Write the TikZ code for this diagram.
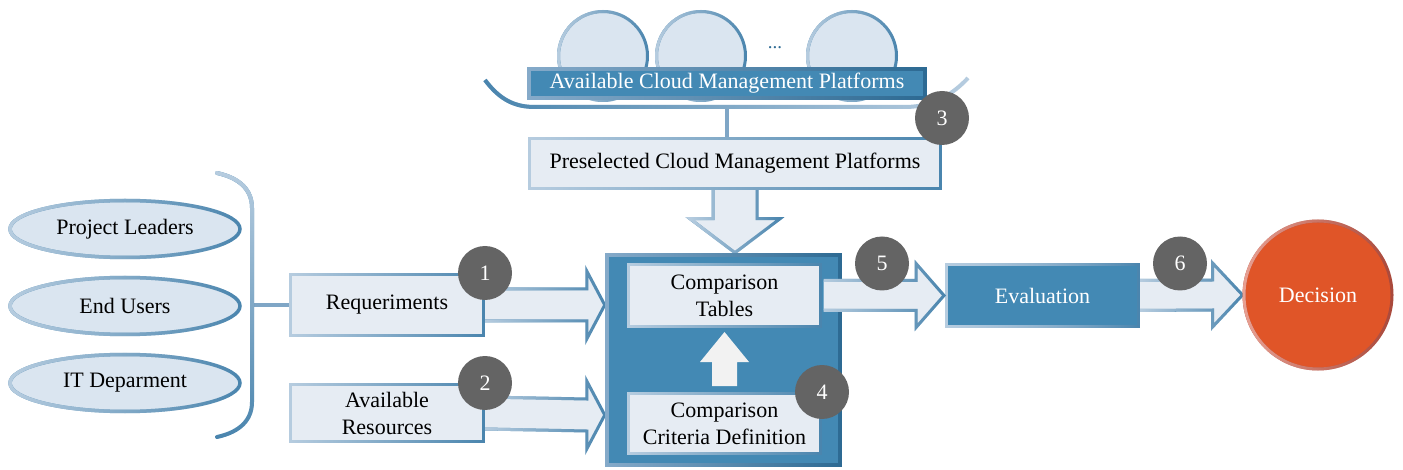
\documentclass[tikz,border=0pt]{standalone}
\usepackage{fontspec}
\setmainfont{Liberation Serif}
\newfontfamily\diagramfont{Liberation Serif}
\usetikzlibrary{positioning}
\usetikzlibrary{calc, backgrounds, fadings}
\usetikzlibrary{shapes.geometric}
\definecolor{paleblue}{HTML}{DAE5F0}
\definecolor{boxfill}{HTML}{E6ECF3}
\definecolor{midblue}{HTML}{4389B4}
\definecolor{edgedark}{HTML}{4A85AE}
\definecolor{edgelight}{HTML}{B7CDE0}
\definecolor{navyedge}{HTML}{2D6A93}
\definecolor{greyedge}{HTML}{86ABCA}
\definecolor{linkblue}{HTML}{7FA6C6}
\definecolor{numgrey}{HTML}{646464}
\definecolor{decisionred}{HTML}{E05528}
\definecolor{rustedge}{HTML}{A9483A}
\definecolor{pinkedge}{HTML}{E9A193}
\definecolor{arrowwhite}{HTML}{F2F2F2}
\tikzfading[name=fade right, left color=transparent!0, right color=transparent!100]
\tikzfading[name=fade down, top color=transparent!0, bottom color=transparent!100]
\tikzset{
	twotone/.style 2 args={draw=#2, postaction={draw=#1, path fading=fade right}},
	twotonev/.style 2 args={draw=#2, postaction={draw=#1, path fading=fade down}},
}
% horizontal block arrow: from, to, shaft half, head half, head length
\newcommand{\harrow}[5]{%
	\draw[blockarrow] ($(#1)+(0,#3)$) -- ($(#2)+(-#5,#3)$) -- ($(#2)+(-#5,#4)$) -- (#2)
	-- ($(#2)+(-#5,-#4)$) -- ($(#2)+(-#5,-#3)$) -- ($(#1)+(0,-#3)$);}

\begin{document}
\begin{tikzpicture}[x=1pt, y=-1pt, font=\diagramfont\fontsize{22}{27}\selectfont, line join=miter]
    \tikzstyle{person}=[ellipse, fill=paleblue, line width=3.5pt, twotone={edgelight}{edgedark}, minimum width=230pt, minimum height=57pt, inner sep=0pt]
    \tikzstyle{platform}=[circle, fill=paleblue, line width=3pt, twotone={edgelight}{edgedark}, minimum size=89pt, inner sep=0pt]
    \tikzstyle{lightbox}=[rectangle, fill=boxfill, line width=3pt, twotone={edgelight}{edgedark}, inner sep=0pt, align=center]
    \tikzstyle{bluebox}=[rectangle, fill=midblue, text=white, line width=4pt, twotone={greyedge}{navyedge}, inner sep=0pt, align=center]
    \tikzstyle{badge}=[circle, fill=numgrey, text=white, minimum size=54pt, inner sep=0pt]
    \tikzstyle{blockarrow}=[fill=boxfill, line width=3pt, twotone={edgelight}{edgedark}]
    \tikzstyle{link}=[draw=linkblue, line width=4pt]

    \useasboundingbox (0,0) rectangle (1403,470);

    % stakeholders and bracket
    \node[person] (pl) at (125,229) {Project Leaders};
    \node[person] (eu) at (125,306) {End Users};
    \node[person] (it) at (125,383) {IT Deparment};
    \draw[line width=4pt, line cap=round, twotonev={edgelight}{edgedark}] (217,173) .. controls (240,178) and (252,190) .. (252,208) -- (252,402) .. controls (252,420) and (240,432) .. (217,437);
    \coordinate (brk) at (252,305);

    % platforms on top
    \draw[line width=4pt, twotone={edgedark}{edgelight}] (485,80) .. controls (500,100) and (515,107) .. (535,107) -- (905,107) .. controls (935,107) and (955,92) .. (968,78);
    \node[platform] (cmp1) at (603,56) {};
    \node[platform] (cmp2) at (701,56) {};
    \node[platform] (cmp3) at (852,56) {};
    \node[text=navyedge, font=\diagramfont\fontsize{19}{20}\selectfont] (more) at (775,48) {...};
    \node[bluebox, minimum width=396pt, minimum height=29pt] (avail) at (727,83.5) {Available Cloud Management Platforms};
    \coordinate (bowl) at (727,107);
    \node[lightbox, minimum width=411pt, minimum height=50pt] (presel) at (735,163.5) {Preselected Cloud Management Platforms};

    % inputs
    \node[lightbox, minimum width=193pt, minimum height=61pt] (req) at (387,305) {Requeriments};
    \node[lightbox, minimum width=193pt, minimum height=57pt, below=46pt of req] (res) {Available\\Resources};

    % comparison block
    \node[bluebox, line width=4.5pt, minimum width=233pt, minimum height=210pt] (cmp) at (723.5,360) {};
    \node[lightbox, minimum width=192pt, minimum height=62pt] (tables) at (724.5,295.5) {Comparison\\Tables};
    \node[lightbox, minimum width=192pt, minimum height=60pt, below=64pt of tables] (crit) {Comparison\\Criteria Definition};

    \node[bluebox, line width=3pt, twotone={edgelight}{edgedark}, minimum width=192pt, minimum height=62pt] (eval) at (1042.5,295.5) {Evaluation};
    \node[circle, fill=decisionred, text=white, line width=3pt, twotone={pinkedge}{rustedge}, minimum size=148pt] (dec) at (1318,295) {Decision};

    % connectors and arrows
    \begin{scope}[on background layer]
        \draw[link] (brk) -- (req.west);
        \draw[link] (bowl) -- (bowl |- presel.north);
        \coordinate (tip1) at (req.east -| cmp.west);
        \coordinate (tip2) at ($(res.east -| cmp.west)+(0,2)$);
        \harrow{req.east}{tip1}{16}{34}{18}
        \harrow{res.east}{tip2}{16}{34}{18}
        \harrow{eval.east}{dec.west}{15}{32}{30}
        \coordinate (dtip) at (presel.south |- cmp.north);
        \draw[blockarrow] ($(presel.south)+(-22,0)$) -- ($(dtip)+(-22,-34)$) -- ($(dtip)+(-45,-34)$) -- (dtip) -- ($(dtip)+(45,-34)$) -- ($(dtip)+(22,-34)$) -- ($(presel.south)+(22,0)$);
    \end{scope}
    \coordinate (t5a) at ($(tables.east)+(1.5,0)$);
    \coordinate (t5b) at ($(eval.west)+(-1,0)$);
    \harrow{t5a}{t5b}{15}{32}{28}
    \coordinate (utip) at ($(tables.south)+(0,4)$);
    \fill[arrowwhite] ($(crit.north)+(-12.5,-6)$) -- ($(utip)+(-12.5,30)$) -- ($(utip)+(-24.5,30)$) -- (utip) -- ($(utip)+(24.5,30)$) -- ($(utip)+(12.5,30)$) -- ($(crit.north)+(12.5,-6)$) -- cycle;

    % step numbers
    \node[badge] (n1) at (req.north east) {1};
    \node[badge] (n2) at (res.north east) {2};
    \node[badge] (n3) at ($(presel.north east)+(0,-19)$) {3};
    \node[badge] (n4) at (crit.north east) {4};
    \node[badge] (n5) at ($(tables.east)+(60,-32)$) {5};
    \node[badge] (n6) at ($(eval.east)+(40,-32)$) {6};
\end{tikzpicture}
\end{document}
